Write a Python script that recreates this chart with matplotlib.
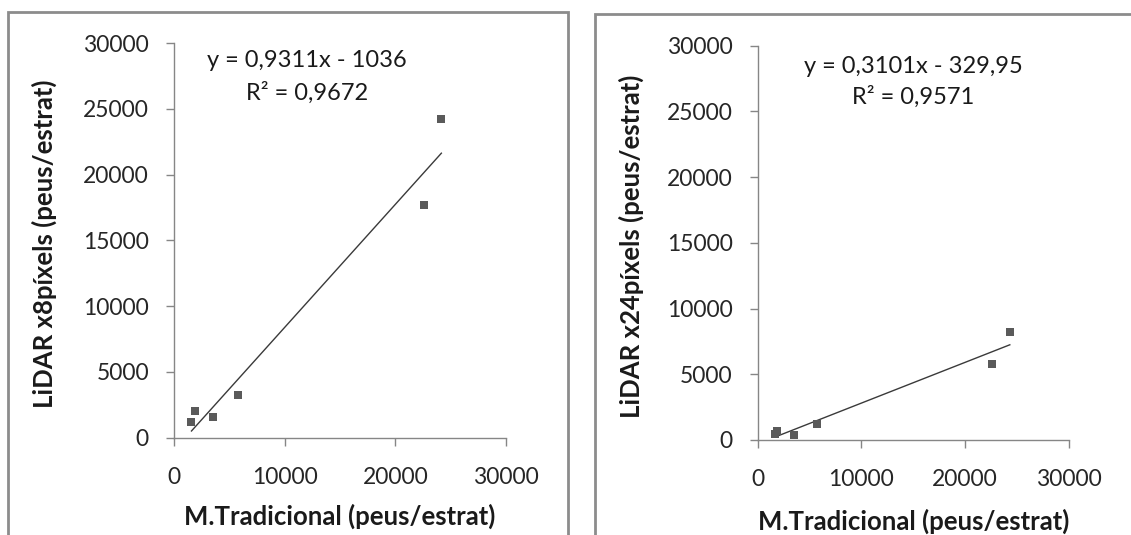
import numpy as np
import matplotlib
matplotlib.use("Agg")
import matplotlib.pyplot as plt
from matplotlib.patches import Rectangle

plt.rcParams['font.family'] = ['Lato', 'DejaVu Sans']

# Data
x_trad = [1580, 1900, 3550, 5740, 22600, 24160]
y_x8 = [1170, 1980, 1570, 3200, 17680, 24200]
x_trad_b = [1720, 1890, 3470, 5740, 22600, 24300]
y_x24 = [490, 700, 350, 1250, 5760, 8200]

eq_left = ["y = 0,9311x - 1036", "R² = 0,9672"]
eq_right = ["y = 0,3101x - 329,95", "R² = 0,9571"]
xlabel = "M.Tradicional (peus/estrat)"
ylabel_left = "LiDAR x8píxels (peus/estrat)"
ylabel_right = "LiDAR x24píxels (peus/estrat)"
ticks = [0, 10000, 20000, 30000]
yticks = [0, 5000, 10000, 15000, 20000, 25000, 30000]

W, H = 1131, 535
fig = plt.figure(figsize=(W / 100, H / 100), dpi=100)

# panel borders (figure pixels)
border_col = "#8c8c8c"
fig.patches.append(Rectangle((8 / W, -0.05), (568 - 8) / W, 1.05 - 12 / H,
                             transform=fig.transFigure, fill=False,
                             edgecolor=border_col, linewidth=2))
fig.patches.append(Rectangle((595 / W, -0.05), 0.6, 1.05 - 14 / H,
                             transform=fig.transFigure, fill=False,
                             edgecolor=border_col, linewidth=2))

TICK_FS = 16.5
LAB_FS = 18.5
EQ_FS = 17

def make_axes(rect, xs, ys, eq, ylab, eq_pos, eq_gap, xlab_y, ylab_x):
    ax = fig.add_axes(rect)
    ax.scatter(xs, ys, marker='s', s=30, color='#5a5a5a', zorder=3, linewidths=0)
    coef = np.polyfit(xs, ys, 1)
    xx = np.array([min(xs), max(xs)])
    ax.plot(xx, np.polyval(coef, xx), color='#3a3a3a', linewidth=1.0, zorder=2)
    ax.set_xlim(0, 30000)
    ax.set_ylim(0, 30000)
    ax.set_xticks(ticks)
    ax.set_yticks(yticks)
    for s in ['top', 'right']:
        ax.spines[s].set_visible(False)
    for s in ['left', 'bottom']:
        ax.spines[s].set_color('#868686')
        ax.spines[s].set_linewidth(1.0)
    ax.tick_params(direction='out', length=6, width=1.0, color='#868686',
                   labelsize=TICK_FS, labelcolor='#262626')
    ax.tick_params(axis='y', pad=12)
    ax.tick_params(axis='x', pad=15)
    ax.set_xlabel(xlabel, fontsize=LAB_FS, fontweight='bold', color='#1a1a1a',
                  va='center')
    ax.xaxis.set_label_coords(0.5, xlab_y)
    ax.set_ylabel(ylab, fontsize=LAB_FS, fontweight='bold', color='#1a1a1a',
                  va='center')
    ax.yaxis.set_label_coords(ylab_x, 0.49)
    ax.text(eq_pos[0], eq_pos[1], eq[0], transform=ax.transAxes, ha='center',
            va='center', fontsize=EQ_FS, color='#1a1a1a')
    ax.text(eq_pos[0], eq_pos[1] - eq_gap, eq[1], transform=ax.transAxes, ha='center',
            va='center', fontsize=EQ_FS, color='#1a1a1a')
    ax.patch.set_alpha(0)
    return ax

# left axes: x 174..506, y 43..437.5
make_axes([174 / W, 1 - 437.5 / H, (506 - 174) / W, (437.5 - 43) / H],
          x_trad, y_x8, eq_left, ylabel_left, (0.40, 0.955), 0.082, -0.199, -0.39)
# right axes: x 757.5..1069, y 45.7..440
make_axes([757.5 / W, 1 - 440 / H, (1069 - 757.5) / W, (440 - 45.7) / H],
          x_trad_b, y_x24, eq_right, ylabel_right, (0.499, 0.948), 0.078, -0.205, -0.406)

fig.savefig("out.png", dpi=100)
